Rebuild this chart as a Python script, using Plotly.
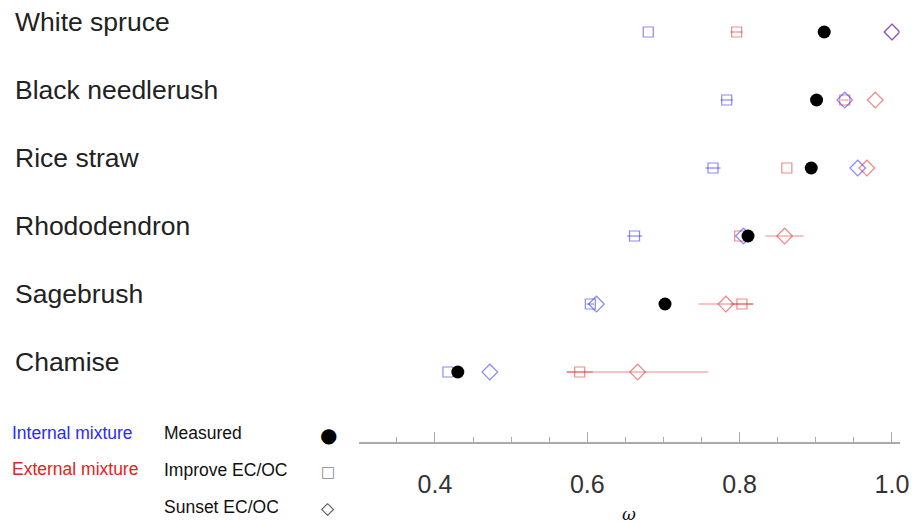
import plotly.graph_objects as go

W, H = 912, 523
FIG_W = 922

categories = ["White spruce", "Black needlerush", "Rice straw", "Rhododendron", "Sagebrush", "Chamise"]
measured = [0.911, 0.901, 0.894, 0.811, 0.702, 0.430]
int_improve = [0.680, 0.783, 0.765, 0.662, 0.604, 0.417]
int_improve_err = [0.0, 0.008, 0.010, 0.010, 0.005, 0.0]
int_sunset = [1.000, 0.938, 0.955, 0.805, 0.612, 0.472]
ext_improve = [0.796, 0.938, 0.862, 0.800, 0.803, 0.590]
ext_improve_err = [0.008, 0.005, 0.0, 0.0, 0.015, 0.017]
ext_sunset = [1.000, 0.978, 0.967, 0.859, 0.782, 0.666]
ext_sunset_err = [0.0, 0.0, 0.0, 0.025, 0.036, 0.093]

major_ticks = [0.4, 0.6, 0.8, 1.0]
minor_ticks = [0.3, 0.35, 0.45, 0.5, 0.55, 0.65, 0.7, 0.75, 0.85, 0.9, 0.95]

rows = list(range(len(categories)))
BLUE = "rgba(40,40,255,0.55)"
RED = "rgba(228,40,40,0.55)"
FONT = "Liberation Sans, Arial, sans-serif"

fig = go.Figure()

def add(xv, err, color, symbol, size):
    fig.add_trace(go.Scatter(
        x=xv, y=rows, mode="markers",
        marker=dict(symbol=symbol, size=size, color=color, line=dict(width=1.2, color=color)),
        error_x=dict(type="data", array=err, color=color, thickness=1.2, width=0, visible=True),
        showlegend=False, hoverinfo="x",
    ))

add(ext_sunset, ext_sunset_err, RED, "diamond-open", 12)
add(ext_improve, ext_improve_err, RED, "square-open", 10)
add(int_sunset, [0] * 6, BLUE, "diamond-open", 12)
add(int_improve, int_improve_err, BLUE, "square-open", 10)
fig.add_trace(go.Scatter(
    x=measured, y=rows, mode="markers",
    marker=dict(symbol="circle", size=13, color="black"),
    showlegend=False, hoverinfo="x",
))

annotations = []
for i, c in enumerate(categories):
    annotations.append(dict(x=13 / W, xref="paper", y=i, yref="y", yshift=10,
                            text=c, showarrow=False, xanchor="left", yanchor="middle",
                            font=dict(family=FONT, size=26.5, color="#222")))

def py(p):
    return 1 - p / H

legend_items = [
    ("Internal mixture", 10, 433, "#2a2aff"),
    ("External mixture", 10, 469, "#e82020"),
    ("Measured", 162, 433, "#111"),
    ("Improve EC/OC", 162, 470, "#111"),
    ("Sunset EC/OC", 162, 507, "#111"),
]
for t, xp, yp, col in legend_items:
    annotations.append(dict(x=xp / W, xref="paper", y=py(yp), yref="paper", text=t,
                            showarrow=False, xanchor="left", yanchor="middle",
                            font=dict(family=FONT, size=17.5, color=col)))
for sym, yp, size, col in [("●", 435, 20, "#000"), ("□", 472, 15, "#888"), ("◇", 508, 17, "#444")]:
    annotations.append(dict(x=328 / W, xref="paper", y=py(yp), yref="paper", text=sym,
                            showarrow=False, xanchor="center", yanchor="middle",
                            font=dict(family="DejaVu Sans", size=size, color=col)))

annotations.append(dict(x=629 / W, xref="paper", y=py(514), yref="paper", text="<i>ω</i>",
                        showarrow=False, xanchor="center", yanchor="middle",
                        font=dict(family="DejaVu Serif", size=17, color="#111")))

fig.update_layout(
    width=FIG_W, height=H, autosize=False,
    margin=dict(l=0, r=0, t=0, b=0),
    paper_bgcolor="white", plot_bgcolor="white",
    annotations=annotations,
    xaxis=dict(
        domain=[358.8 / W, 899.6 / W], range=[0.3, 1.01],
        showgrid=False, zeroline=False,
        showline=True, linecolor="#aaa", linewidth=1.5,
        tickmode="array", tickvals=major_ticks, ticktext=["0.4", "0.6", "0.8", "1.0"],
        ticks="inside", ticklen=10, tickcolor="#aaa", tickwidth=1,
        ticklabelstandoff=19,
        tickfont=dict(family=FONT, size=25, color="#333"),
        minor=dict(tickmode="array", tickvals=minor_ticks, ticks="inside", ticklen=5,
                   tickcolor="#aaa", tickwidth=1, showgrid=False),
    ),
    yaxis=dict(
        domain=[1 - 442 / H, 1], range=[6.029, -0.4706],
        visible=False, showgrid=False, zeroline=False,
    ),
)

fig.write_html("out.html", config={"responsive": False})
